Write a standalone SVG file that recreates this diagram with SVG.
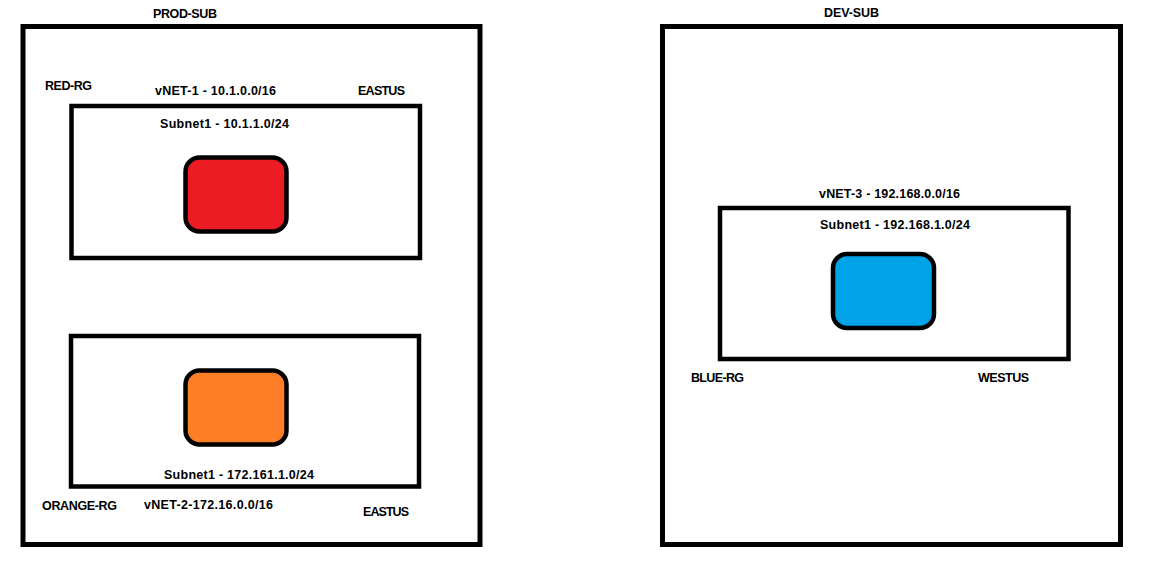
<svg xmlns="http://www.w3.org/2000/svg" width="1150" height="573" viewBox="0 0 1150 573">
<style>
.box{fill:none;stroke:#000;stroke-width:5}
.vnet{fill:none;stroke:#000;stroke-width:4.5}
.vm{stroke:#000;stroke-width:4.5}
text{font-family:"Liberation Sans",Arial,sans-serif;font-weight:bold;font-size:12.5px;fill:#000}
</style>
<rect width="1150" height="573" fill="#fff"/>
<g id="prod-sub">
<rect class="box" x="23" y="26.5" width="457" height="518"/>
<text x="153" y="18" textLength="64">PROD-SUB</text>
</g>
<g id="red-rg">
<text x="45" y="90" textLength="47">RED-RG</text>
<text x="155" y="95" textLength="121">vNET-1 - 10.1.0.0/16</text>
<text x="358" y="95" textLength="47">EASTUS</text>
<rect class="vnet" x="71.5" y="106" width="348.5" height="152"/>
<text x="160" y="128" textLength="129">Subnet1 - 10.1.1.0/24</text>
<rect class="vm" x="185.5" y="157.5" width="101" height="74" rx="14" fill="#ED1C24"/>
</g>
<g id="orange-rg">
<rect class="vnet" x="71" y="336" width="348" height="150.5"/>
<rect class="vm" x="185.5" y="370.5" width="101" height="74" rx="14" fill="#FF7F27"/>
<text x="164" y="479" textLength="150">Subnet1 - 172.161.1.0/24</text>
<text x="42" y="510" textLength="75">ORANGE-RG</text>
<text x="144" y="509" textLength="129">vNET-2-172.16.0.0/16</text>
<text x="363" y="516" textLength="46">EASTUS</text>
</g>
<g id="dev-sub">
<rect class="box" x="662.5" y="26.5" width="458" height="518"/>
<text x="824" y="17" textLength="55">DEV-SUB</text>
</g>
<g id="blue-rg">
<text x="819" y="198" textLength="141">vNET-3 - 192.168.0.0/16</text>
<rect class="vnet" x="720" y="208" width="348.5" height="151"/>
<text x="820" y="229" textLength="150">Subnet1 - 192.168.1.0/24</text>
<rect class="vm" x="833" y="254" width="101" height="74" rx="14" fill="#00A2E8"/>
<text x="691" y="382" textLength="53">BLUE-RG</text>
<text x="978" y="382" textLength="51">WESTUS</text>
</g>
<g id="connectors"></g>
</svg>
